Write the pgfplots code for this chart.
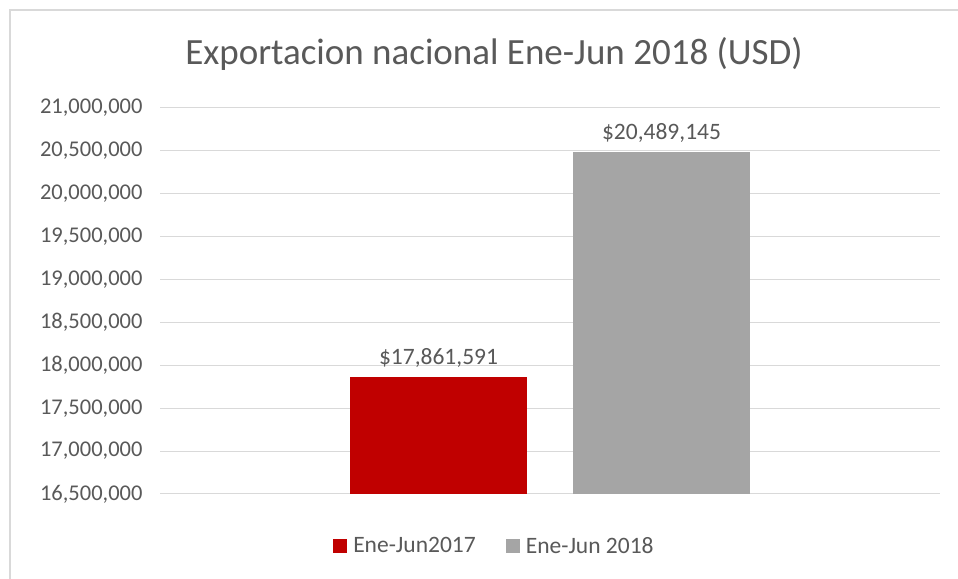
\documentclass[border=0pt]{standalone}
\usepackage{fontspec}
\setmainfont{Carlito}
\usepackage{pgfplots}
\pgfplotsset{compat=1.18}
\definecolor{barred}{HTML}{C00000}
\definecolor{bargray}{HTML}{A5A5A5}
\definecolor{gridc}{HTML}{D9D9D9}
\definecolor{txt}{HTML}{595959}
\begin{document}
\begin{tikzpicture}
\path[use as bounding box, fill=white] (0,0) rectangle (958bp,579bp);
% chart border (top and left visible)
\draw[gridc, line width=1.5bp] (10bp,0) -- (10bp,569bp) -- (958bp,569bp);
\node[anchor=base, text=txt, font=\fontsize{37bp}{40bp}\selectfont] at (494bp,514.7bp)
  {Exportacion nacional Ene-Jun 2018 (USD)};
\begin{axis}[
    at={(160bp,85bp)}, anchor=south west,
    scale only axis,
    width=780bp, height=386bp,
    xmin=-1, xmax=1,
    ymin=16500000, ymax=21000000,
    ytick distance=500000,
    scaled y ticks=false,
    /pgf/number format/fixed,
    /pgf/number format/1000 sep={,},
    /pgf/number format/assume math mode=true,
    yticklabel style={text=txt, font=\fontsize{22.5bp}{25bp}\selectfont, xshift=-14bp},
    xtick=\empty,
    ymajorgrids,
    grid style={gridc, line width=1bp},
    axis line style={draw=none},
    major tick length=0pt,
    ybar=46bp,
    bar width=177bp,
    point meta=explicit symbolic,
    nodes near coords,
    every node near coord/.append style={text=txt, font=\fontsize{23.5bp}{26bp}\selectfont, yshift=6bp},
    legend columns=2,
    legend style={at={(rel axis cs:0.4288,-0.1347)}, anchor=center, draw=none,
        text=txt, font=\fontsize{23.5bp}{26bp}\selectfont,
        /tikz/every odd column/.append style={column sep=4bp},
        /tikz/every even column/.append style={column sep=28bp}},
    legend image code/.code={\fill[#1] (0bp,-7bp) rectangle (14bp,7bp);},
]
\addplot[fill=barred, draw=none] coordinates {(0,17861591) [\$17,861,591]};
\addplot[fill=bargray, draw=none] coordinates {(0,20489145) [\$20,489,145]};
\legend{Ene-Jun2017, Ene-Jun 2018}
\end{axis}
\end{tikzpicture}
\end{document}
